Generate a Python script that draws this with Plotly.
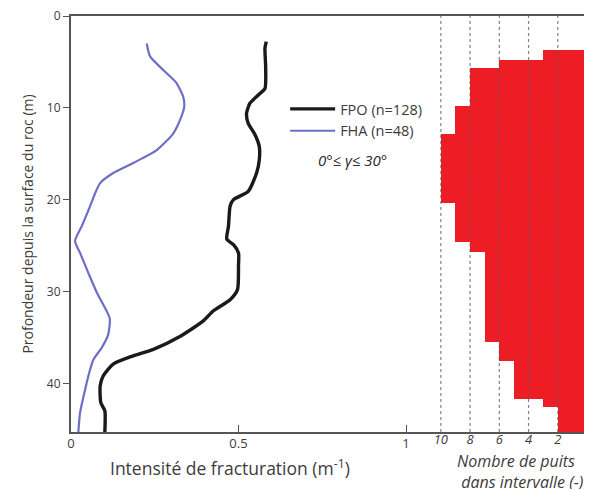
import plotly.graph_objects as go

# ---- data ----
fpo_depth = [2.8, 3.5, 5.5, 7.9, 8.6, 9.5, 10.6, 11.7, 12.9, 14.2, 15.7, 17.1, 19.1, 20.0, 20.7,
             22.9, 24.3, 24.9, 25.8, 27.2, 29.8, 30.9, 32.1, 33.2, 34.9, 36.3, 37.0, 37.9, 39.2,
             40.3, 42.1, 43.0, 45.3]
fpo_int = [0.583, 0.579, 0.581, 0.579, 0.559, 0.534, 0.524, 0.529, 0.549, 0.562, 0.562, 0.554,
           0.529, 0.485, 0.475, 0.470, 0.465, 0.485, 0.500, 0.500, 0.497, 0.475, 0.425, 0.395,
           0.325, 0.246, 0.186, 0.126, 0.096, 0.087, 0.089, 0.101, 0.101]

fha_depth = [3.0, 4.4, 5.9, 7.3, 8.8, 9.9, 10.9, 12.8, 14.6, 16.0, 17.1, 18.2, 19.3, 20.7, 22.9,
             24.5, 25.8, 28.0, 30.1, 32.1, 33.0, 34.7, 36.1, 37.4, 38.5, 40.7, 43.2, 45.3]
fha_int = [0.226, 0.236, 0.276, 0.315, 0.335, 0.338, 0.330, 0.305, 0.256, 0.186, 0.126, 0.087,
           0.072, 0.057, 0.032, 0.012, 0.027, 0.052, 0.077, 0.106, 0.116, 0.111, 0.092, 0.067,
           0.057, 0.042, 0.027, 0.022]

# histogram: depth interval edges and number of wells in each interval
well_edges = [3.7, 4.8, 5.7, 9.8, 12.8, 20.4, 24.6, 25.7, 35.5, 37.6, 41.7, 42.6, 45.3]
well_counts = [3, 6, 8, 9, 10, 9, 8, 7, 6, 5, 3, 2]

int_ticks = [0, 0.5, 1]
int_ticklabels = ["0", "0.5", "1"]
well_ticks = [10, 8, 6, 4, 2]
well_ticklabels = ["10", "8", "6", "4", "2"]
depth_ticks = [0, 10, 20, 30, 40]

FONT = "Open Sans"
TXT = "#3c3c3c"
AX = "#555555"

fig = go.Figure()

# histogram bars (horizontal, on reversed secondary axis)
centers = [(a + b) / 2 for a, b in zip(well_edges[:-1], well_edges[1:])]
widths = [b - a for a, b in zip(well_edges[:-1], well_edges[1:])]
fig.add_trace(go.Bar(
    x=well_counts, y=centers, width=widths, base=0, orientation="h",
    marker=dict(color="#ee1c25", line=dict(width=0)),
    xaxis="x2", yaxis="y", showlegend=False, hoverinfo="skip",
))

fig.add_trace(go.Scatter(
    x=fpo_int, y=fpo_depth, mode="lines", name="FPO (n=128)",
    line=dict(color="#1a1a1a", width=3.4, shape="spline", smoothing=0.6), legendgroup="a",
))
fig.add_trace(go.Scatter(
    x=fha_int, y=fha_depth, mode="lines", name="FHA (n=48)",
    line=dict(color="#6e6ec6", width=2.2, shape="spline", smoothing=0.6), legendgroup="b",
))

# dotted guide lines at the well-count ticks (above bars)
for t in well_ticks:
    fig.add_shape(type="line", xref="x2", yref="paper", x0=t, x1=t, y0=0, y1=1,
                  line=dict(color="rgba(90,90,90,0.75)", width=1.2, dash="dot"), layer="above")

fig.update_layout(
    width=592, height=489,
    margin=dict(l=63, r=8, t=8, b=65, autoexpand=False),
    paper_bgcolor="white", plot_bgcolor="white",
    font=dict(family=FONT, color=TXT, size=12),
    bargap=0,
    xaxis=dict(
        range=[0, 521 / 335], tickvals=int_ticks, ticktext=int_ticklabels,
        ticks="inside", ticklen=7, tickwidth=1.2, tickcolor=AX, ticklabelstandoff=-2,
        showline=True, linecolor=AX, linewidth=2, mirror=True, automargin=False,
        showgrid=False, zeroline=False, tickfont=dict(size=13, color=TXT),
        ticklabeloverflow="allow",
    ),
    xaxis2=dict(
        overlaying="x", side="bottom", range=[35.3, -0.34], automargin=False,
        tickvals=well_ticks, ticktext=["<i>%s</i>" % s for s in well_ticklabels],
        ticks="", showline=False, showgrid=False, zeroline=False, ticklabelstandoff=-2,
        tickfont=dict(size=13, color=TXT), ticklabeloverflow="allow",
    ),
    yaxis=dict(
        range=[45.3, 0], tickvals=depth_ticks, ticks="outside", ticklen=6, tickwidth=1.2,
        tickcolor=AX, showline=True, linecolor=AX, linewidth=2, mirror=False, automargin=False,
        showgrid=False, zeroline=False, tickfont=dict(size=12, color=TXT),
        ticklabeloverflow="allow",
        title=dict(text="Profondeur depuis la surface du roc (m)", font=dict(size=14, color=TXT),
                   standoff=10),
    ),
    legend=dict(
        x=0.411, y=0.815, xanchor="left", yanchor="top",
        bgcolor="rgba(0,0,0,0)", font=dict(size=14.5, color=TXT),
        itemwidth=45, tracegroupgap=0,
    ),
    showlegend=True,
)

fig.add_annotation(text="<i>0°≤ γ≤ 30°</i>", xref="paper", yref="paper",
                   x=(352 - 71) / 521, xanchor="center", y=(432 - 148) / 416, showarrow=False,
                   font=dict(size=15, color="#2a2a2a"))
fig.add_annotation(text="Intensité de fracturation (m<sup>-1</sup>)", xref="paper", yref="paper",
                   x=(230 - 71) / 521, xanchor="center", y=-0.0865, yanchor="middle",
                   showarrow=False, font=dict(size=17.5, color=TXT))
fig.add_annotation(text="<i>Nombre de puits<br> dans intervalle (-)</i>", xref="paper", yref="paper",
                   x=(455 - 71) / 521, xanchor="left", align="left",
                   y=-0.094, yanchor="middle", showarrow=False,
                   font=dict(size=16, color=TXT))

fig.write_html("out.html")
